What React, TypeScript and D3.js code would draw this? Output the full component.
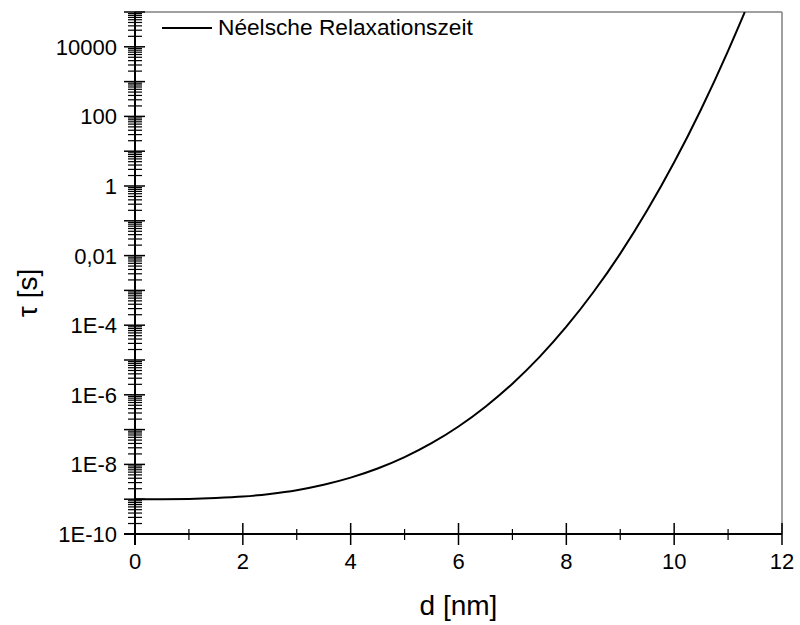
import React from "react";
import * as d3 from "d3";

// Data (d in nm, tau in s)
const dValues = [0, 0.5, 1, 1.5, 2, 2.5, 3, 3.5, 4, 4.5, 5, 5.5, 6, 6.5, 7, 7.5, 8, 8.5, 9, 9.5, 10, 10.5, 11, 11.31];
const tauValues = [
  1.0e-9, 1.003e-9, 1.02e-9, 1.08e-9, 1.19e-9, 1.42e-9, 1.82e-9, 2.6e-9, 4.17e-9, 7.62e-9,
  1.62e-8, 4.08e-8, 1.23e-7, 4.56e-7, 2.09e-6, 1.21e-5, 9.06e-5, 8.83e-4, 1.14e-2, 0.2,
  4.8, 161, 7670, 1.0e5,
];
const xTicks = [0, 2, 4, 6, 8, 10, 12];
const xMinorTicks = [1, 3, 5, 7, 9, 11];
const yLabelTicks = [1e-10, 1e-8, 1e-6, 1e-4, 1e-2, 1, 100, 10000];
const yLabelTexts = ["1E-10", "1E-8", "1E-6", "1E-4", "0,01", "1", "100", "10000"];
const yDecadeExponents = [-10, -9, -8, -7, -6, -5, -4, -3, -2, -1, 0, 1, 2, 3, 4, 5];
const minorMultipliers = [2, 3, 4, 5, 6, 7, 8, 9];
const legendLabel = "Néelsche Relaxationszeit";
const xTitle = "d [nm]";
const yTitle = "τ [s]";

const W = 800;
const H = 625;
const left = 135;
const right = 782;
const top = 12;
const bottom = 534;
const FONT = "Liberation Sans, Arial, sans-serif";

export default function App() {
  const x = d3.scaleLinear().domain([0, 12]).range([left, right]);
  const y = d3.scaleLog().domain([1e-10, 1e5]).range([bottom, top]);

  const pts: [number, number][] = dValues.map((d, i) => [d, tauValues[i]]);
  const line = d3
    .line<[number, number]>()
    .x((p) => x(p[0]))
    .y((p) => y(p[1]))
    .curve(d3.curveMonotoneX);

  const majorY = yDecadeExponents.map((e) => Math.pow(10, e));
  const minorY: number[] = [];
  yDecadeExponents.slice(0, -1).forEach((e) => {
    minorMultipliers.forEach((m) => minorY.push(m * Math.pow(10, e)));
  });

  return (
    <svg
      width={W}
      height={H}
      style={{ position: "absolute", left: 0, top: 0, background: "#fff" }}
      fontFamily={FONT}
    >
      <rect x={0} y={0} width={W} height={H} fill="#fff" />
      <defs>
        <clipPath id="plotClip">
          <rect x={left} y={top} width={right - left} height={bottom - top} />
        </clipPath>
      </defs>

      {/* top and right frame */}
      <line x1={left} y1={top} x2={right} y2={top} stroke="#808080" strokeWidth={1.5} />
      <line x1={right} y1={top} x2={right} y2={bottom} stroke="#808080" strokeWidth={1.5} />

      {/* curve */}
      <path d={line(pts) || ""} fill="none" stroke="#000" strokeWidth={2} clipPath="url(#plotClip)" />

      {/* y axis */}
      <line x1={left} y1={top} x2={left} y2={bottom + 11} stroke="#000" strokeWidth={2} />
      {majorY.map((v, i) => (
        <line key={"ym" + i} x1={left - 11} x2={left + 10} y1={y(v)} y2={y(v)} stroke="#000" strokeWidth={1.5} />
      ))}
      {minorY.map((v, i) => (
        <line key={"yn" + i} x1={left - 7} x2={left + 7} y1={y(v)} y2={y(v)} stroke="#000" strokeWidth={1.2} />
      ))}
      {yLabelTicks.map((v, i) => (
        <text key={"yl" + i} x={117} y={y(v)} dy="0.36em" textAnchor="end" fontSize={22} fill="#000">
          {yLabelTexts[i]}
        </text>
      ))}

      {/* x axis */}
      <line x1={left - 11} y1={bottom} x2={right} y2={bottom} stroke="#000" strokeWidth={2} />
      {xTicks.map((v) => (
        <line key={"xm" + v} x1={x(v)} x2={x(v)} y1={bottom - 11} y2={bottom + 11} stroke="#000" strokeWidth={1.5} />
      ))}
      {xMinorTicks.map((v) => (
        <line key={"xn" + v} x1={x(v)} x2={x(v)} y1={bottom - 5} y2={bottom + 6} stroke="#000" strokeWidth={1.2} />
      ))}
      {xTicks.map((v) => (
        <text key={"xl" + v} x={x(v)} y={569} textAnchor="middle" fontSize={22} fill="#000">
          {v}
        </text>
      ))}

      {/* axis titles */}
      <text x={(left + right) / 2} y={615} textAnchor="middle" fontSize={28} fill="#000">
        {xTitle}
      </text>
      <text
        transform={`translate(37, 293) rotate(-90)`}
        textAnchor="middle"
        fontSize={28}
        fill="#000"
      >
        {yTitle}
      </text>

      {/* legend */}
      <line x1={162} x2={212} y1={28} y2={28} stroke="#000" strokeWidth={2} />
      <text x={218} y={35} fontSize={22.7} fill="#000">
        {legendLabel}
      </text>
    </svg>
  );
}
